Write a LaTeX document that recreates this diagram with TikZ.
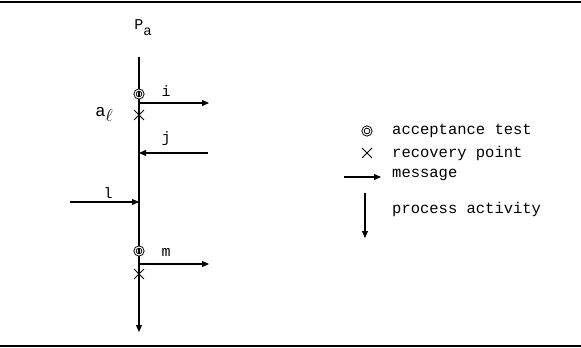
\documentclass[tikz,border=0pt]{standalone}
\usepackage{fontspec}
\setmonofont{Liberation Mono}
\usetikzlibrary{arrows.meta,shapes.misc}
\tikzset{
  rule/.style={line width=1.3pt},
  proc/.style={line width=1.1pt,-{Triangle[length=7pt,width=6pt]}},
  msg/.style={line width=1.1pt,-{Triangle[length=7pt,width=6pt]}},
  acc/.style={circle,draw,double,double distance=1.1pt,line width=0.9pt,inner sep=0pt,minimum size=8pt},
  rec/.style={cross out,draw,line width=0.9pt,inner sep=0pt,minimum size=9pt},
  lbl/.style={font=\ttfamily\fontsize{15}{17}\selectfont,inner sep=1pt},
  leg/.style={font=\ttfamily\fontsize{15.5}{18}\selectfont,anchor=west,inner sep=0pt}
}
\begin{document}
\begin{tikzpicture}[x=1pt,y=-1pt]
\useasboundingbox (0,0) rectangle (581,348);
% rules
\coordinate (tl) at (0,2); \coordinate (tr) at (581,2);
\coordinate (bl) at (0,346); \coordinate (br) at (581,346);
\draw[rule] (tl) -- (tr);
\draw[rule] (bl) -- (br);
% process line
\node[lbl] (pa) at (143,28) {P\raisebox{-6pt}{\fontsize{14}{14}\selectfont a}};
\coordinate (top) at (139,57); \coordinate (bot) at (139,332);
\draw[proc] (top) -- (bot);
% first acceptance test and message i
\node[acc] (c1) at (139,94) {};
\coordinate (i0) at (139,103); \coordinate (i1) at (209,103);
\draw[msg] (i0) -- (i1);
\node[lbl] (li) at (166,91) {i};
\node[rec] (x1) at (139,115) {};
\node[lbl] (al) at (104,114) {\fontsize{17}{17}\selectfont a\raisebox{-5pt}{\fontsize{17}{17}\selectfont$\ell$}};
% message j
\coordinate (j0) at (208,153); \coordinate (j1) at (139,153);
\draw[msg] (j0) -- (j1);
\node[lbl] (lj) at (166,139) {j};
% message l
\coordinate (l0) at (70,202); \coordinate (l1) at (139,202);
\draw[msg] (l0) -- (l1);
\node[lbl] (ll) at (108,193) {l};
% second acceptance test and message m
\node[acc] (c2) at (139,251) {};
\coordinate (m0) at (139,264); \coordinate (m1) at (209,264);
\draw[msg] (m0) -- (m1);
\node[lbl] (lm) at (166,252) {m};
\node[rec] (x2) at (139,274) {};
% legend
\node[acc] (c3) at (367,131) {};
\node[leg] (t1) at (392,131) {acceptance test};
\node[rec] (x3) at (367,153) {};
\node[leg] (t2) at (392,153) {recovery point};
\coordinate (g0) at (344,177); \coordinate (g1) at (381,177);
\draw[msg] (g0) -- (g1);
\node[leg] (t3) at (392,175) {message};
\coordinate (v0) at (365,193); \coordinate (v1) at (365,238);
\draw[proc] (v0) -- (v1);
\node[leg] (t4) at (392,209) {process activity};
\end{tikzpicture}
\end{document}
